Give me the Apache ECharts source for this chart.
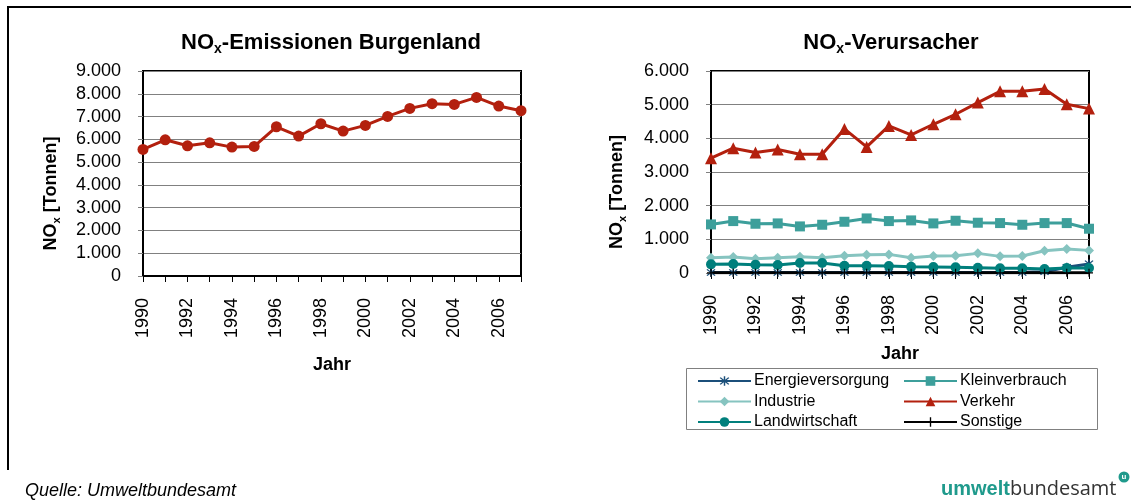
<!DOCTYPE html>
<html><head><meta charset="utf-8">
<script src="https://cdn.jsdelivr.net/npm/echarts@6/dist/echarts.min.js"></script>
<style>html,body{margin:0;padding:0;background:#fff}#c{width:1131px;height:504px}</style>
</head><body><div id="c"></div>
<script>
const years = ['1990','1991','1992','1993','1994','1995','1996','1997','1998','1999','2000','2001','2002','2003','2004','2005','2006','2007'];
const totalNOx = [5555, 5980, 5717, 5849, 5658, 5687, 6552, 6142, 6684, 6362, 6611, 7007, 7358, 7564, 7534, 7842, 7461, 7256];
const energieversorgung = [15, 15, 15, 15, 15, 15, 15, 15, 15, 15, 15, 15, 15, 15, 20, 40, 170, 270];
const kleinverbrauch = [1443, 1542, 1463, 1473, 1384, 1433, 1522, 1621, 1542, 1562, 1473, 1552, 1493, 1483, 1433, 1483, 1483, 1315];
const industrie = [455, 474, 425, 455, 484, 455, 514, 544, 553, 455, 504, 514, 583, 494, 504, 662, 712, 672];
const verkehr = [3410, 3707, 3578, 3667, 3529, 3529, 4280, 3746, 4369, 4102, 4418, 4715, 5061, 5397, 5397, 5466, 5012, 4883];
const landwirtschaft = [257, 267, 247, 237, 297, 297, 217, 217, 208, 188, 178, 168, 158, 138, 138, 119, 148, 148];
const sonstige = [5, 5, 5, 5, 5, 5, 5, 5, 5, 5, 5, 5, 5, 5, 5, 5, 5, 5];
const leftTicks = { min: 0, max: 9000, interval: 1000 };
const rightTicks = { min: 0, max: 6000, interval: 1000 };

const FONT = '"Liberation Sans", Arial, sans-serif';
const fmt = v => v >= 1000 ? Math.floor(v/1000) + '.' + String(v % 1000).padStart(3, '0') : String(v);
const subRich = (size) => ({
  a: { fontSize: size, fontWeight: 'bold', fontFamily: FONT, color: '#000', lineHeight: size + 4 },
  s: { fontSize: Math.round(size * 0.62), fontWeight: 'bold', fontFamily: FONT, color: '#000', verticalAlign: 'bottom', lineHeight: Math.round(size*0.5) }
});

const asterisk = 'path://M-0.6,-5L0.6,-5L0.6,5L-0.6,5Z M-3.12,-3.96L3.96,3.12L3.12,3.96L-3.96,-3.12Z M-3.12,3.96L3.96,-3.12L3.12,-3.96L-3.96,3.12Z';
const plus = 'path://M-0.7,-5L0.7,-5L0.7,5L-0.7,5Z M-5,-0.7L5,-0.7L5,0.7L-5,0.7Z';

function xAx(gi, gap) {
  return {
    type: 'category', gridIndex: gi, data: years, boundaryGap: false,
    axisLine: { lineStyle: { color: '#000', width: 2 } },
    axisTick: { show: true, interval: 0, length: 6, lineStyle: { color: '#000', width: 1 } },
    axisLabel: { interval: 1, rotate: 90, margin: 22, fontSize: 18, fontFamily: FONT, color: '#000' },
    name: 'Jahr', nameLocation: 'middle', nameGap: gap,
    nameTextStyle: { fontSize: 18, fontWeight: 'bold', fontFamily: FONT, color: '#000' },
    splitLine: { show: false }
  };
}
function yAx(gi, t, gap) {
  return {
    type: 'value', gridIndex: gi, min: t.min, max: t.max, interval: t.interval,
    axisLine: { show: true, lineStyle: { color: '#000', width: 2 } },
    axisTick: { show: true, length: 5, lineStyle: { color: '#808080' } },
    axisLabel: { margin: 22, fontSize: 18, fontFamily: FONT, color: '#000', formatter: fmt },
    splitLine: { show: true, lineStyle: { color: '#808080', width: 1 } },
    name: '{a|NO}{s|x}{a| [Tonnen]}', nameLocation: 'middle', nameRotate: 90, nameGap: gap,
    nameTextStyle: { padding: [0, 40, 0, 0], rich: subRich(18) }
  };
}
function ser(name, data, color, symbol, size, gi) {
  return {
    name, type: 'line', data, xAxisIndex: gi, yAxisIndex: gi, color,
    symbol, symbolSize: size, showSymbol: true,
    lineStyle: { color, width: 3 }, itemStyle: { color },
    emphasis: { disabled: true }, animation: false
  };
}
const legendText = { fontSize: 16, fontFamily: FONT, color: '#000', padding: [0,0,0,-2] };

const chart = echarts.init(document.getElementById('c'), null, { renderer: 'canvas' });
chart.setOption({
  animation: false,
  backgroundColor: '#fff',
  title: [
    { text: '{a|NO}{s|x}{a|-Emissionen Burgenland}', left: 326, top: 25, textAlign: 'center', textStyle: { rich: subRich(22) } },
    { text: '{a|NO}{s|x}{a|-Verursacher}', left: 886, top: 25, textAlign: 'center', textStyle: { rich: subRich(22) } }
  ],
  grid: [
    { left: 143, top: 71, width: 378, height: 205, show: true, borderColor: '#000', borderWidth: 2, containLabel: false },
    { left: 711, top: 71, width: 378, height: 202, show: true, borderColor: '#000', borderWidth: 2, containLabel: false }
  ],
  xAxis: [xAx(0, 80), xAx(1, 72)],
  yAxis: [yAx(0, leftTicks, 81), yAx(1, rightTicks, 83)],
  legend: [
    { data: ['Energieversorgung', 'Industrie', 'Landwirtschaft'], orient: 'vertical', left: 697, top: 373, padding: 0,
      itemWidth: 53, itemHeight: 12, itemGap: 4.5, textStyle: legendText },
    { data: ['Kleinverbrauch', 'Verkehr', 'Sonstige'], orient: 'vertical', left: 903, top: 373, padding: 0,
      itemWidth: 53, itemHeight: 12, itemGap: 4.5, textStyle: legendText }
  ],
  graphic: [
    { type: 'line', shape: { x1: 7, y1: 7, x2: 1131, y2: 7 }, style: { stroke: '#000', lineWidth: 2 } },
    { type: 'line', shape: { x1: 8, y1: 6, x2: 8, y2: 470 }, style: { stroke: '#000', lineWidth: 2 } },
    { type: 'rect', shape: { x: 686.5, y: 368.5, width: 411, height: 61 }, style: { fill: 'none', stroke: '#808080', lineWidth: 1 }, z: -1 },
    { type: 'text', x: 25, y: 491, style: { text: 'Quelle: Umweltbundesamt', font: 'italic 18px "Liberation Sans", Arial, sans-serif', fill: '#000', verticalAlign: 'middle' } },
    { type: 'text', x: 941, y: 489, style: { text: '{b|umwelt}{n|bundesamt}', verticalAlign: 'middle',
        rich: { b: { font: 'bold 20px "Liberation Sans", Arial, sans-serif', fill: '#1f9a8c' }, n: { font: '20px "Open Sans", "Liberation Sans", sans-serif', fill: '#333' } } } },
    { type: 'circle', shape: { cx: 1124, cy: 477, r: 5.5 }, style: { fill: '#1f9a8c' } },
    { type: 'text', x: 1124, y: 477, style: { text: 'u', font: 'bold 8px "Liberation Sans", Arial, sans-serif', fill: '#fff', align: 'center', verticalAlign: 'middle' } }
  ],
  series: [
    ser('Gesamt', totalNOx, '#b3200e', 'circle', 11, 0),
    ser('Energieversorgung', energieversorgung, '#1b4f7a', asterisk, 9, 1),
    ser('Kleinverbrauch', kleinverbrauch, '#3d9f9b', 'rect', 10, 1),
    ser('Industrie', industrie, '#86c4c0', 'diamond', 10, 1),
    ser('Verkehr', verkehr, '#b3200e', 'triangle', 12, 1),
    ser('Landwirtschaft', landwirtschaft, '#007f7c', 'circle', 10, 1),
    ser('Sonstige', sonstige, '#000', plus, 8, 1)
  ]
});
</script></body></html>
